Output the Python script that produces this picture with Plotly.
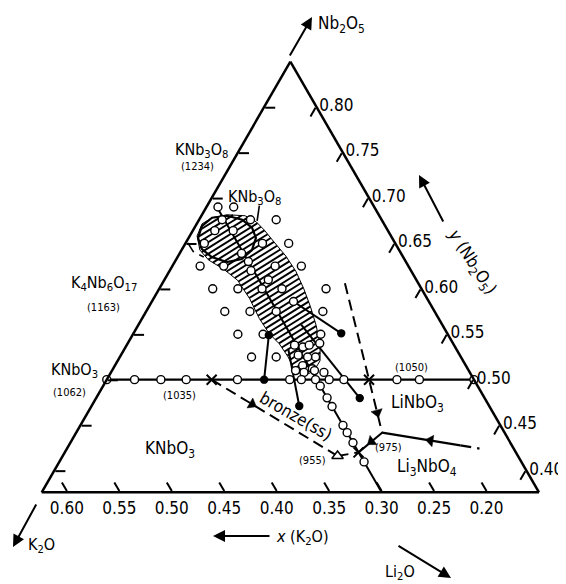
import numpy as np
import plotly.graph_objects as go

# screen size and the page's default 8px body margin
SW, SH, OFF = 566, 584, 8
W, H = SW - OFF, SH - OFF
FONT = "DejaVu Sans Condensed, Liberation Sans Narrow, Liberation Sans, sans-serif"
DASH = "11px,6px"

# ternary window (mole fractions): Nb2O5 (a, top), K2O (b, left), Li2O (c, right)
NB_MIN, K_MIN, LI_MIN = 0.376, 0.15, 0.0

# KNbO3 - LiNbO3 join at Nb2O5 = 0.50
join_li_ends = [0.0, 0.35]
join_open_li = [0.0, 0.0265, 0.0516, 0.0757, 0.1246, 0.1744, 0.1855, 0.199, 0.212, 0.226, 0.2766, 0.298, 0.35]
join_filled_li = [0.15]
join_cross_li = [0.10, 0.25]

# section at K2O = 0.30
K30 = 0.30
k30_nb_ends = [0.69, 0.376]
k30_open_nb = [0.493, 0.48, 0.4705, 0.4497, 0.4417, 0.4306, 0.4095]
k30_cross_nb = [0.42]

# bronze(ss) boundary (dashed) and points
bronze_nb = [0.50, 0.416]
bronze_li = [0.10, 0.262]
bronze_tail_nb = [0.416, 0.42]
bronze_tail_li = [0.262, 0.28]
eutectic_nb = [0.416]
eutectic_li = [0.262]

# LiNbO3 boundary (dashed) down to ternary point (975)
lin_nb = [0.606, 0.50, 0.4417]
lin_li = [0.174, 0.25, 0.2916]
li3_nb = [0.4417, 0.4276]
li3_li = [0.2916, 0.3732]
li3_tail_nb = [0.4276, 0.4242]
li3_tail_li = [0.3732, 0.3932]
tx_nb = [0.4417, 0.42]
tx_li = [0.2916, 0.28]

# tie lines (start, end) with filled ends
tie_nb = [[0.549, 0.50], [0.534, 0.471], [0.586, 0.551], [0.5606, 0.4797]]
tie_li = [[0.13, 0.15], [0.156, 0.198], [0.135, 0.198], [0.155, 0.2513]]
filled_nb = [0.549, 0.50, 0.471, 0.551, 0.4797]
filled_li = [0.13, 0.15, 0.198, 0.198, 0.2513]

# arrowheads along boundaries
arrow_nb = [0.473, 0.4638, 0.433, 0.4319]
arrow_li = [0.152, 0.2759, 0.342, 0.2864]

# experimental compositions (open circles)
circ_nb = [0.69, 0.69, 0.676, 0.676, 0.676, 0.664, 0.664, 0.65, 0.65, 0.65, 0.639, 0.63,
           0.625, 0.625, 0.62, 0.625, 0.625, 0.61, 0.60, 0.60, 0.60, 0.60, 0.60, 0.586,
           0.575, 0.575, 0.575, 0.575, 0.55, 0.55, 0.55, 0.525, 0.525, 0.525,
           0.538, 0.536, 0.538, 0.540, 0.527, 0.525, 0.5155, 0.512, 0.510, 0.508, 0.510, 0.508]
circ_li = [0.011, 0.026, 0.022, 0.049, 0.0735, 0.021, 0.0385, 0.018, 0.0734, 0.0984, 0.059, 0.07,
           0.0265, 0.049, 0.0775, 0.098, 0.123, 0.099, 0.051, 0.075, 0.098, 0.117, 0.159, 0.135,
           0.075, 0.099, 0.124, 0.1685, 0.10, 0.124, 0.179, 0.1255, 0.149, 0.1865,
           0.160, 0.169, 0.174, 0.183, 0.169, 0.179, 0.179, 0.190, 0.175, 0.184, 0.193, 0.203]

# bronze solid-solution field (hatched) and inner oval
band_nb = [0.6582, 0.6715, 0.6782, 0.6815, 0.6804, 0.6738, 0.6649, 0.6516, 0.6361, 0.6194, 0.6006,
           0.5806, 0.5595, 0.5374, 0.5207, 0.5096, 0.5041, 0.5119, 0.5252, 0.5396, 0.5507, 0.5673,
           0.5895, 0.6094, 0.6216, 0.6316, 0.6427]
band_li = [0.0070, 0.0051, 0.0113, 0.0240, 0.0417, 0.0555, 0.0675, 0.0836, 0.1026, 0.1205, 0.1373,
           0.1538, 0.1699, 0.1847, 0.1929, 0.1927, 0.1858, 0.1725, 0.1602, 0.1446, 0.1295, 0.1118,
           0.0913, 0.0700, 0.0507, 0.0314, 0.0174]
oval_nb = [0.656, 0.6693, 0.6782, 0.6804, 0.676, 0.6671, 0.656, 0.6427, 0.6327, 0.6294, 0.6349, 0.6437, 0.656]
oval_li = [0.009, 0.0062, 0.0113, 0.0246, 0.0411, 0.055, 0.0642, 0.067, 0.0624, 0.0497, 0.0327, 0.0188, 0.009]
bracket_nb = [0.6915, 0.6749]
bracket_li = [0.0497, 0.0559]
hook_nb = [0.6505, 0.641, 0.635]
hook_li = [0.002, 0.012, 0.025]

# tick values
k_ticks = [0.60, 0.55, 0.50, 0.45, 0.40, 0.35, 0.30, 0.25, 0.20]
nb_ticks = [0.80, 0.75, 0.70, 0.65, 0.60, 0.55, 0.50, 0.45, 0.40]


def kk(nb, li):
    return [None if (a is None) else round(1 - a - c, 6) for a, c in zip(nb, li)]


SQ = np.sqrt(3) / 2


def hatch(nb_pts, li_pts, spacing, angle_deg):
    """Clip parallel hatch lines (screen angle angle_deg) to the polygon."""
    X = np.array(li_pts) + np.array(nb_pts) / 2
    Y = np.array(nb_pts) * SQ
    th = np.radians(angle_deg)
    u = np.array([np.cos(th), np.sin(th)])
    n = np.array([-np.sin(th), np.cos(th)])
    P = np.column_stack([X, Y])
    Q = np.roll(P, -1, axis=0)
    pn, qn = P @ n, Q @ n
    A, C = [], []
    for d in np.arange(pn.min() + spacing / 2, pn.max(), spacing):
        pts = []
        for i in range(len(P)):
            s1, s2 = pn[i] - d, qn[i] - d
            if s1 * s2 < 0:
                t = s1 / (s1 - s2)
                pts.append(P[i] + t * (Q[i] - P[i]))
        pts.sort(key=lambda p: float(p @ u))
        for j in range(0, len(pts) - 1, 2):
            for p in (pts[j], pts[j + 1]):
                a = float(p[1] / SQ)
                A.append(a)
                C.append(float(p[0] - a / 2))
            A.append(None)
            C.append(None)
    return A, C


fig = go.Figure()


def line(nb, li, dash="solid", width=2.2):
    fig.add_trace(go.Scatterternary(a=nb, b=kk(nb, li), c=li, mode="lines",
                                    line=dict(color="black", width=width, dash=dash),
                                    hoverinfo="skip", showlegend=False))


def marks(nb, li, symbol="circle", size=8, color="white", lw=1.4, angle=None):
    mk = dict(symbol=symbol, size=size, color=color, line=dict(color="black", width=lw))
    if angle is not None:
        mk["angle"] = angle
    fig.add_trace(go.Scatterternary(a=nb, b=kk(nb, li), c=li, mode="markers",
                                    marker=mk, cliponaxis=False,
                                    hoverinfo="skip", showlegend=False))


# hatched field
ha, hc = hatch(band_nb, band_li, 0.0047, 32)
line(ha, hc, width=1.9)
line(band_nb + band_nb[:1], band_li + band_li[:1], width=1.0)
line(oval_nb, oval_li, width=2.2)
line(bracket_nb, bracket_li, width=1.6)
line(hook_nb, hook_li, dash=DASH, width=1.6)

# main lines
line([0.50, 0.50], join_li_ends, width=2.4)
line(k30_nb_ends, [1 - K30 - v for v in k30_nb_ends], width=2.0)
line(bronze_nb, bronze_li, dash=DASH, width=2.0)
line(bronze_tail_nb, bronze_tail_li, dash=DASH, width=2.0)
line(lin_nb, lin_li, dash=DASH, width=2.0)
line(li3_nb, li3_li, width=2.2)
line(li3_tail_nb, li3_tail_li, dash=DASH, width=2.2)
line(tx_nb, tx_li, width=2.0)
for tn, tl in zip(tie_nb, tie_li):
    line(tn, tl, width=2.0)

# markers
marks(circ_nb, circ_li)
marks([0.50] * len(join_open_li), join_open_li)
marks(k30_open_nb, [1 - K30 - v for v in k30_open_nb])
marks(filled_nb, filled_li, size=7, color="black")
marks([0.50] * len(join_cross_li), join_cross_li, symbol="x-thin", size=10, lw=2)
marks(k30_cross_nb, [1 - K30 - v for v in k30_cross_nb], symbol="x-thin", size=10, lw=2)
marks(eutectic_nb, eutectic_li, symbol="triangle-up", size=10, color="white", lw=1.5)
marks(arrow_nb, arrow_li, symbol=["triangle-right", "triangle-down", "triangle-left", "triangle-left"],
      size=10, color="black", lw=0.5, angle=[30, -15, 9, -37])

axis_common = dict(showgrid=False, linecolor="black", linewidth=2.5, ticks="inside",
                   ticklen=10, tickwidth=1.8, tickcolor="black",
                   tickfont=dict(family=FONT, size=17, color="black"), title=dict(text=""))


def px(x):
    return (x - OFF) / W


def py(y):
    return 1 - (y - OFF) / H


fig.update_layout(
    width=W, height=H, margin=dict(l=0, r=0, t=0, b=0),
    paper_bgcolor="white", plot_bgcolor="white",
    font=dict(family=FONT, color="black", size=16),
    ternary=dict(
        sum=1, bgcolor="white",
        domain=dict(x=[px(41.7), px(539.0)], y=[py(497), py(57)]),
        aaxis=dict(min=NB_MIN, tickvals=nb_ticks, showticklabels=False, **axis_common),
        baxis=dict(min=K_MIN, tickvals=k_ticks, ticktext=[f"{v:.2f}" for v in k_ticks], **axis_common),
        caxis=dict(min=LI_MIN, tickvals=[round(1 - K_MIN - v, 4) for v in nb_ticks],
                   ticktext=[f"{v:.2f}" for v in nb_ticks], **axis_common),
    ),
)


def label(text, x, y, size=16, angle=0):
    return dict(text=text, x=px(x), y=py(y), xref="paper", yref="paper", showarrow=False,
                xanchor="center", yanchor="middle",
                font=dict(family=FONT, size=size, color="black"), textangle=angle)


def arrow(hx, hy, tx, ty):
    return dict(text="", x=px(hx), y=py(hy), xref="paper", yref="paper", showarrow=True,
                ax=tx - hx, ay=ty - hy, arrowhead=2, arrowsize=1.2, arrowwidth=2, arrowcolor="black")


S = "<sub>%s</sub>"
ann = [
    label("Nb" + S % "2" + "O" + S % "5", 341, 24, 17),
    arrow(312, 17, 289, 57),
    label("<i>y</i> (Nb" + S % "2" + "O" + S % "5" + ")", 472, 262, 17, 57),
    arrow(419, 175, 444, 223),
    label("KNb" + S % "3" + "O" + S % "8", 201, 150, 16),
    label("(1234)", 197, 166, 11),
    label("KNb" + S % "3" + "O" + S % "8", 254, 197, 16),
    label("K" + S % "4" + "Nb" + S % "6" + "O" + S % "17", 104, 283, 16),
    label("(1163)", 103, 307, 11),
    label("KNbO" + S % "3", 74, 370, 16),
    label("(1062)", 69, 392, 11),
    label("(1035)", 179, 395, 11),
    label("(1050)", 411, 367, 11),
    label("LiNbO" + S % "3", 417, 403, 17),
    label("Li" + S % "3" + "NbO" + S % "4", 427, 467, 17),
    label("KNbO" + S % "3", 170, 449, 17),
    label("bronze(ss)", 296, 416, 17, 30),
    label("(955)", 312, 460, 11),
    label("(975)", 388, 447, 11),
    label("<i>x</i> (K" + S % "2" + "O)", 302, 537, 16),
    arrow(213, 536, 271, 536),
    label("K" + S % "2" + "O", 41, 545, 16),
    arrow(13, 547, 37, 503),
    label("Li" + S % "2" + "O", 400, 572, 16),
    arrow(451, 578, 397, 545),
]
fig.update_layout(annotations=ann)

fig.write_html("out.html")
